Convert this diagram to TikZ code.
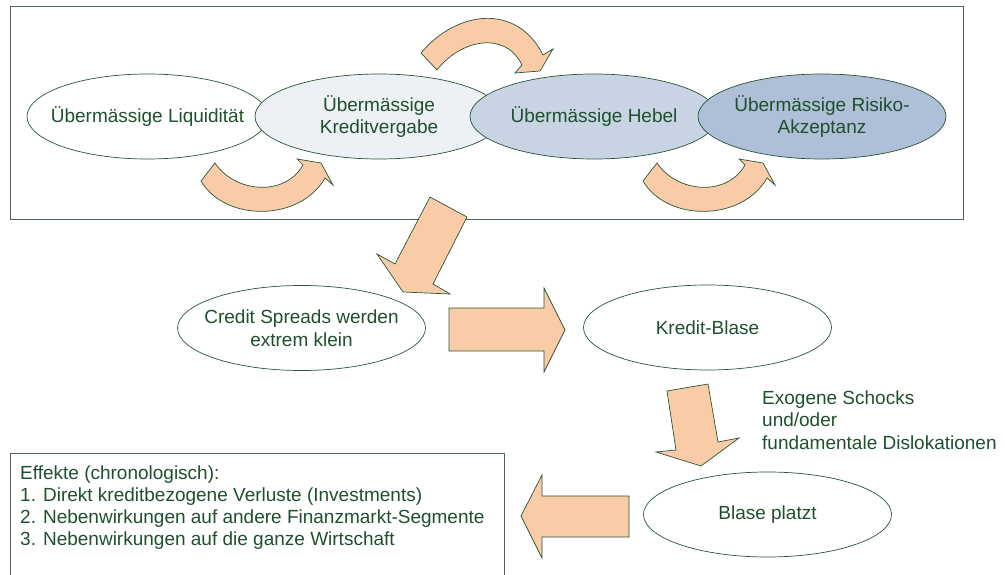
\documentclass[tikz,border=0pt]{standalone}
\usepackage{fontspec}
\setmainfont{Liberation Sans}
\usetikzlibrary{shapes.geometric}
\definecolor{txtgreen}{RGB}{30,80,45}
\definecolor{linegreen}{RGB}{40,85,55}
\definecolor{boxgreen}{RGB}{70,105,80}
\definecolor{peach}{RGB}{249,204,167}
\definecolor{fillA}{RGB}{237,240,245}
\definecolor{fillB}{RGB}{200,212,228}
\definecolor{fillC}{RGB}{175,191,215}
\begin{document}
\begin{tikzpicture}[x=1pt,y=-1pt,
  ell/.style={ellipse, draw=linegreen, line width=0.7pt, minimum width=248pt, minimum height=85pt, inner sep=0pt},
  lbl/.style={text=txtgreen, font=\fontsize{19}{22.5}\selectfont, align=center, inner sep=0pt},
  blockarrow/.style={draw=linegreen, line width=0.7pt, fill=peach, line join=miter},
  frame/.style={draw=boxgreen, line width=0.9pt}]
\useasboundingbox (0,0) rectangle (1005,575);

% top frame
\node[frame, anchor=north west, minimum width=953pt, minimum height=213pt, inner sep=0pt] (topbox) at (10,6) {};

% top row ellipses
\node[ell, fill=white, minimum width=241pt] (e1) at (147.5,116.5) {};
\node[lbl] (t1) at (e1) {Übermässige Liquidität};
\node[ell, fill=fillA] (e2) at (379,116.5) {};
\node[lbl] (t2) at (e2) {Übermässige\\Kreditvergabe};
\node[ell, fill=fillB] (e3) at (594,116.5) {};
\node[lbl] (t3) at (e3) {Übermässige Hebel};
\node[ell, fill=fillC] (e4) at (822,116.5) {};
\node[lbl] (t4) at (e4) {Übermässige Risiko-\\Akzeptanz};

% curved arrows
\draw[blockarrow] (421,53) .. controls (457,10) and (517,3) .. (543,55) -- (553,49) -- (540,71) -- (515,73) -- (522,65) .. controls (505,30) and (460,40) .. (437,70) -- cycle;
\draw[blockarrow] (201,181) .. controls (225,222) and (300,222) .. (325,178) -- (333,185) -- (321,163) -- (297,159) -- (303,165) .. controls (285,197) and (235,193) .. (215,163) -- cycle;
\begin{scope}[shift={(442,0)}]
\draw[blockarrow] (201,181) .. controls (225,222) and (300,222) .. (325,178) -- (333,185) -- (321,163) -- (297,159) -- (303,165) .. controls (285,197) and (235,193) .. (215,163) -- cycle;
\end{scope}

% diagonal arrow
\draw[blockarrow] (430,197) -- (467,217) -- (433,284) -- (450,294) -- (403,292) -- (377,254) -- (395,264) -- cycle;

% middle row
\node[ell, fill=white] (cs) at (301.5,328) {};
\node[lbl] (tcs) at (cs) {Credit Spreads werden\\extrem klein};
\draw[blockarrow] (449,308) -- (544,308) -- (544,288) -- (565,330) -- (544,372) -- (544,351) -- (449,351) -- cycle;
\node[ell, fill=white] (kb) at (707.5,327.5) {};
\node[lbl] (tkb) at (kb) {Kredit-Blase};

% down arrow and label
\draw[blockarrow] (667,391) -- (708,384) -- (718,442) -- (739,438) -- (701,466) -- (656,452) -- (676,450) -- cycle;
\node[lbl, align=left, anchor=west] (exo) at (762,420) {Exogene Schocks\\und/oder\\fundamentale Dislokationen};

% bottom row
\node[ell, fill=white] (bp) at (767.5,514.5) {};
\node[lbl] (tbp) at (bp) {Blase platzt};
\draw[blockarrow] (629,496) -- (542,496) -- (542,475) -- (521,516) -- (542,558) -- (542,537) -- (629,537) -- cycle;

% effects box
\draw[frame] (10,575) |- (504,453) -- (504,575);
\node[lbl, align=left, anchor=north west, font=\fontsize{19}{21.7}\selectfont] (fx) at (20,466) {Effekte (chronologisch):\\1. Direkt kreditbezogene Verluste (Investments)\\2. Nebenwirkungen auf andere Finanzmarkt-Segmente\\3. Nebenwirkungen auf die ganze Wirtschaft};
\end{tikzpicture}
\end{document}
